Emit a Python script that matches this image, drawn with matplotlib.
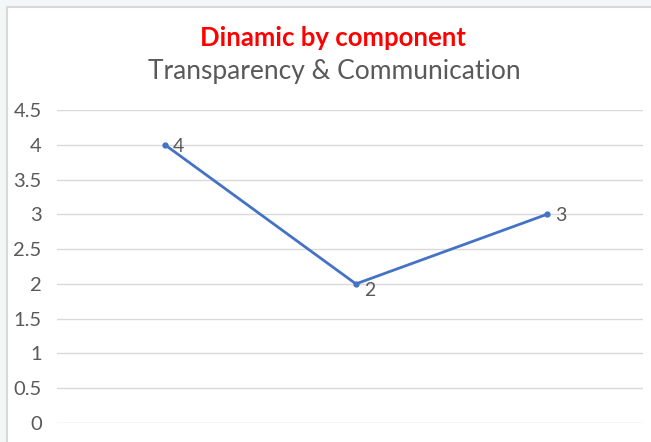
import matplotlib.pyplot as plt
import matplotlib.patches as patches

categories = ['1', '2', '3']
values = [4, 2, 3]
yticks = [0, 0.5, 1, 1.5, 2, 2.5, 3, 3.5, 4, 4.5]
ytick_labels = ['0', '0.5', '1', '1.5', '2', '2.5', '3', '3.5', '4', '4.5']

plt.rcParams['font.family'] = ['Lato', 'DejaVu Sans']

W, H = 651, 442
fig = plt.figure(figsize=(W / 100, H / 100), dpi=100)
fig.patch.set_facecolor('#f4f7f8')

# chart area (white box with light border, cropped at right/bottom)
box = patches.Rectangle((7 / W, -0.01), 1.0, 1 - 7 / H + 0.01, transform=fig.transFigure,
                        facecolor='white', edgecolor='#d9d9d9', linewidth=1.5, zorder=-5)
fig.add_artist(box)

ax = fig.add_axes([57 / W, 19 / H, (643 - 57) / W, (423 - 110) / H])
ax.set_facecolor('none')

x = list(range(len(categories)))
ax.plot(x, values, color='#4472C4', linewidth=2.0, marker='o', markersize=3.5, zorder=3)
for xi, v in zip(x, values):
    ax.annotate(str(v), (xi, v), xytext=(6, -5 if v == 2 else -1), textcoords='offset points',
                ha='left', va='center', fontsize=14, color='#595959')

ax.set_xlim(-0.565, 2.503)
ax.set_ylim(0, 4.5)
ax.set_yticks(yticks)
ax.set_yticklabels(ytick_labels)
ax.set_xticks([])
ax.tick_params(axis='y', length=0, labelsize=14.5, labelcolor='#595959', pad=11)
ax.grid(axis='y', color='#d9d9d9', linewidth=1.0)
ax.set_axisbelow(True)
for s in ax.spines.values():
    s.set_visible(False)

fig.text(333 / W, 1 - 38 / H, 'Dinamic by component', ha='center', va='center',
         fontsize=18.5, fontweight='bold', color='#ff0000')
fig.text(334 / W, 1 - 71 / H, 'Transparency & Communication', ha='center', va='center',
         fontsize=19, color='#595959')

fig.savefig('out.png', dpi=100, facecolor=fig.get_facecolor())
